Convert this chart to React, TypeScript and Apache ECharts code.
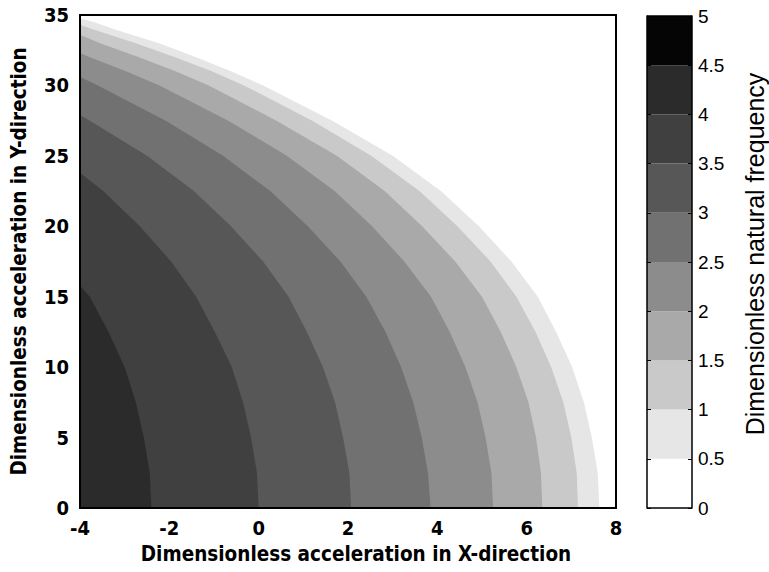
import React, { useEffect, useRef } from 'react';
import * as echarts from 'echarts';

// Colour-bar band edges and band colours (0-0.5 ... 4.5-5)
const bandEdges = [0, 0.5, 1, 1.5, 2, 2.5, 3, 3.5, 4, 4.5, 5];
const bandColors = ['#ffffff', '#e6e6e6', '#c9c9c9', '#a9a9a9', '#8c8c8c', '#717171', '#575757', '#404040', '#2b2b2b', '#050505'];

// Contour boundaries: [x, y] points, from left edge down to the x axis
const contour05 = [[-4, 34.75], [-3.69, 34.5], [-3.25, 34], [-2.23, 33], [-1.4, 32], [-0.62, 31], [0.1, 30], [1.65, 27.5], [3.0, 25], [4.08, 22.5], [4.93, 20], [5.66, 17.5], [6.25, 15], [6.66, 12.5], [7.02, 10], [7.28, 7.5], [7.46, 5], [7.59, 2.5], [7.63, 0]];
const contour10 = [[-4, 34.3], [-3.73, 34], [-2.75, 33], [-1.87, 32], [-1.05, 31], [-0.33, 30], [1.2, 27.5], [2.52, 25], [3.6, 22.5], [4.45, 20], [5.19, 17.5], [5.77, 15], [6.2, 12.5], [6.55, 10], [6.82, 7.5], [7.0, 5], [7.12, 2.5], [7.15, 0]];
const contour15 = [[-4, 33.6], [-3.55, 33], [-2.68, 32], [-1.86, 31], [-1.12, 30], [0.4, 27.5], [1.75, 25], [2.82, 22.5], [3.66, 20], [4.4, 17.5], [5.0, 15], [5.42, 12.5], [5.77, 10], [6.04, 7.5], [6.21, 5], [6.32, 2.5], [6.35, 0]];
const contour20 = [[-4, 32.3], [-3.78, 32], [-2.97, 31], [-2.22, 30], [-0.68, 27.5], [0.63, 25], [1.7, 22.5], [2.54, 20], [3.26, 17.5], [3.86, 15], [4.28, 12.5], [4.63, 10], [4.9, 7.5], [5.08, 5], [5.21, 2.5], [5.25, 0]];
const contour25 = [[-4, 30.6], [-3.6, 30], [-2.08, 27.5], [-0.8, 25], [0.26, 22.5], [1.1, 20], [1.83, 17.5], [2.41, 15], [2.84, 12.5], [3.19, 10], [3.46, 7.5], [3.65, 5], [3.79, 2.5], [3.85, 0]];
const contour30 = [[-4, 27.9], [-3.78, 27.5], [-2.5, 25], [-1.45, 22.5], [-0.62, 20], [0.1, 17.5], [0.67, 15], [1.08, 12.5], [1.44, 10], [1.71, 7.5], [1.89, 5], [2.03, 2.5], [2.07, 0]];
const contour35 = [[-4, 23.8], [-3.48, 22.5], [-2.66, 20], [-1.96, 17.5], [-1.4, 15], [-0.98, 12.5], [-0.6, 10], [-0.35, 7.5], [-0.17, 5], [-0.04, 2.5], [0, 0]];
const contour40 = [[-4, 15.8], [-3.78, 15], [-3.36, 12.5], [-3.0, 10], [-2.75, 7.5], [-2.57, 5], [-2.44, 2.5], [-2.4, 0]];
const contours = [contour05, contour10, contour15, contour20, contour25, contour30, contour35, contour40];

const xTitle = 'Dimensionless acceleration in X-direction';
const yTitle = 'Dimensionless acceleration in Y-direction';
const cbTitle = 'Dimensionless natural frequency';

export default function App() {
  const ref = useRef<HTMLDivElement>(null);
  useEffect(() => {
    document.body.style.margin = '0';
    const chart = echarts.init(ref.current as HTMLDivElement, null, { renderer: 'svg' });
    const narrow = "'Liberation Sans Narrow', 'DejaVu Sans Condensed', 'Arial Narrow', 'Liberation Sans', sans-serif";
    const tickFont = { fontFamily: narrow, fontWeight: 'bold' as const, fontSize: 20, color: '#000' };
    const contourSeries = contours.map((pts, i) => ({
      type: 'line',
      xAxisIndex: 0,
      yAxisIndex: 0,
      data: pts,
      symbol: 'none',
      showSymbol: false,
      lineStyle: { width: 0, color: bandColors[i + 1] },
      areaStyle: { color: bandColors[i + 1], opacity: 1 },
      silent: true,
      z: 2 + i,
      clip: true,
    }));
    const cbSeries = bandColors.map((c, i) => ({
      type: 'bar',
      xAxisIndex: 2,
      yAxisIndex: 2,
      stack: 'cb',
      data: [bandEdges[i + 1] - bandEdges[i]],
      barWidth: '100%',
      itemStyle: { color: c },
      silent: true,
      z: 2,
    }));
    const mainLine = { show: true, onZero: false, lineStyle: { color: '#000', width: 2 } };
    chart.setOption({
      animation: false,
      backgroundColor: '#fff',
      grid: [
        { left: 80, top: 15, width: 536, height: 493, show: false },
        { left: 647, top: 16, width: 45, height: 492, show: false },
      ],
      xAxis: [
        {
          type: 'value', gridIndex: 0, min: -4, max: 8, interval: 2, position: 'bottom', z: 20,
          axisLine: mainLine, axisTick: { show: false }, splitLine: { show: false },
          axisLabel: { ...tickFont, margin: 10 },
          name: xTitle, nameLocation: 'middle', nameGap: 35,
          nameTextStyle: { fontFamily: narrow, fontWeight: 'bold', fontSize: 20.5, color: '#000', padding: [0, 0, 0, 16] },
        },
        {
          type: 'value', gridIndex: 0, min: -4, max: 8, interval: 2, position: 'top', z: 20,
          axisLine: mainLine, axisTick: { show: false }, splitLine: { show: false }, axisLabel: { show: false },
        },
        {
          type: 'category', gridIndex: 1, data: ['cb'], show: false,
        },
      ],
      yAxis: [
        {
          type: 'value', gridIndex: 0, min: 0, max: 35, interval: 5, position: 'left', z: 20,
          axisLine: mainLine, axisTick: { show: false }, splitLine: { show: false },
          axisLabel: { ...tickFont, margin: 11 },
          name: yTitle, nameLocation: 'middle', nameGap: 51,
          nameTextStyle: { fontFamily: narrow, fontWeight: 'bold', fontSize: 20.5, color: '#000' },
        },
        {
          type: 'value', gridIndex: 0, min: 0, max: 35, interval: 5, position: 'right', z: 20,
          axisLine: mainLine, axisTick: { show: false }, splitLine: { show: false }, axisLabel: { show: false },
        },
        {
          type: 'value', gridIndex: 1, min: 0, max: 5, interval: 0.5, position: 'right', z: 20,
          axisLine: { show: true, lineStyle: { color: '#000', width: 1.5 } },
          axisTick: { show: true, inside: true, length: 4, lineStyle: { color: '#000', width: 1 } },
          splitLine: { show: false },
          axisLabel: { fontFamily: "'Liberation Sans', Arial, sans-serif", fontSize: 19, color: '#000', margin: 6 },
          name: cbTitle, nameLocation: 'middle', nameRotate: 90, nameGap: 50,
          nameTextStyle: { fontFamily: "'Liberation Sans', Arial, sans-serif", fontSize: 25, color: '#000', padding: [0, 0, 0, 16] },
        },
        {
          type: 'value', gridIndex: 1, min: 0, max: 5, interval: 0.5, position: 'left', z: 20,
          axisLine: { show: true, lineStyle: { color: '#000', width: 1.5 } },
          axisTick: { show: true, inside: true, length: 4, lineStyle: { color: '#000', width: 1 } },
          splitLine: { show: false }, axisLabel: { show: false },
        },
      ],
      graphic: [
        {
          type: 'line', z: 30,
          shape: { x1: 647, y1: 16, x2: 692, y2: 16 },
          style: { stroke: '#000', lineWidth: 1.5 },
        },
        {
          type: 'line', z: 30,
          shape: { x1: 647, y1: 508, x2: 692, y2: 508 },
          style: { stroke: '#000', lineWidth: 1.5 },
        },
      ],
      series: [...contourSeries, ...cbSeries],
    });
    return () => chart.dispose();
  }, []);
  return <div ref={ref} style={{ width: 769, height: 572 }} />;
}
